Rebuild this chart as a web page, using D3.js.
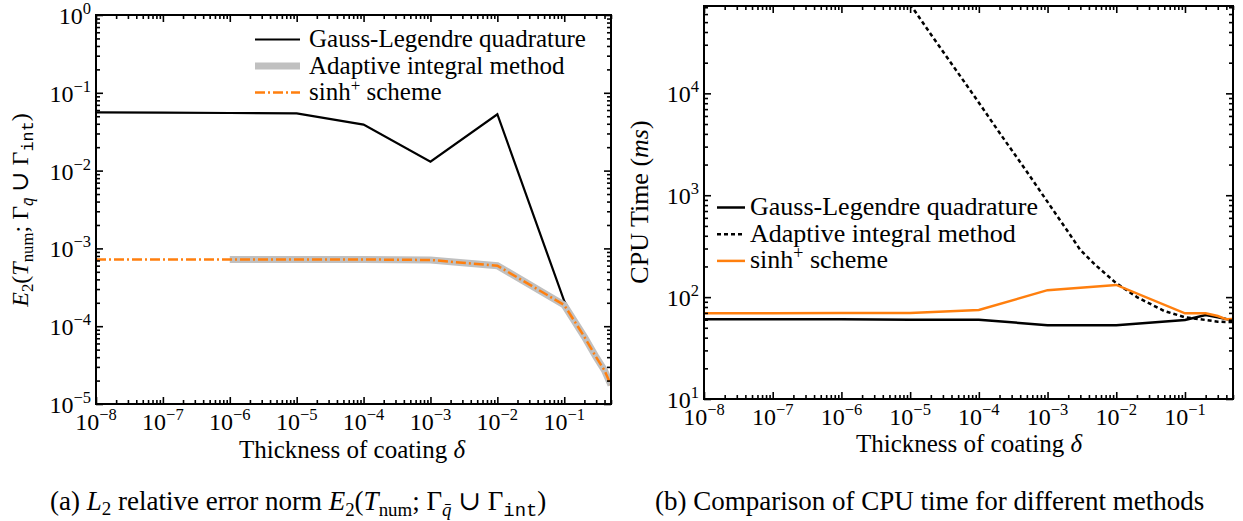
<!DOCTYPE html>
<html>
<head>
<meta charset="utf-8">
<script src="https://cdn.jsdelivr.net/npm/d3@7"></script>
<style>
  html, body { margin: 0; padding: 0; background: #fff; }
  svg { display: block; font-family: "Liberation Serif", "DejaVu Serif", serif; }
</style>
</head>
<body>
<svg id="fig" width="1243" height="521"></svg>
<script>
// ---- data ----
// (a) relative error norm
const deltaErr = [1e-8, 1e-7, 1e-6, 1e-5, 1e-4, 1e-3, 1e-2, 0.1, 0.2, 0.3, 0.4, 0.5];
const gaussErr = [0.056, 0.0555, 0.055, 0.0545, 0.039, 0.013, 0.053, 2.1e-4, 7.3e-5, 4.0e-5, 2.7e-5, 1.75e-5];
const deltaErrAdaptive = [1e-6, 1e-5, 1e-4, 1e-3, 1e-2, 0.1, 0.2, 0.3, 0.4, 0.5];
const adaptiveErr = [7.2e-4, 7.2e-4, 7.2e-4, 7.1e-4, 6.0e-4, 1.87e-4, 7.3e-5, 4.0e-5, 2.7e-5, 1.75e-5];
const sinhErr = [7.2e-4, 7.2e-4, 7.2e-4, 7.2e-4, 7.2e-4, 7.1e-4, 6.0e-4, 1.87e-4, 7.3e-5, 4.0e-5, 2.7e-5, 1.75e-5];

// (b) CPU time in ms
const deltaCpu = [1e-8, 1e-7, 1e-6, 1e-5, 1e-4, 1e-3, 1e-2, 0.1, 0.2, 0.3, 0.4, 0.5];
const gaussCpu = [60.5, 60.5, 60.5, 60, 60, 53, 53, 59.6, 66.7, 63.4, 61, 59.6];
const sinhCpu = [69.4, 69.4, 70, 70, 74.7, 117, 131.6, 69.3, 69.3, 65.3, 60.5, 61];
const deltaCpuAdaptive = [1e-5, 2e-5, 5e-5, 1e-4, 2e-4, 5e-4, 1e-3, 2e-3, 3e-3, 5e-3, 1e-2, 2e-2, 5e-2, 0.1, 0.2, 0.3, 0.4, 0.5];
const adaptiveCpu = [75000, 38000, 15800, 8100, 4100, 1700, 860, 435, 290, 206, 137, 100, 73, 63.4, 59.6, 57.4, 57, 57];

const xExps = [-8, -7, -6, -5, -4, -3, -2, -1];
const yExpsErr = [-5, -4, -3, -2, -1, 0];
const yExpsCpu = [1, 2, 3, 4];

const ORANGE = "#ff7f0e";
const svg = d3.select("#fig");

function zip(xs, ys) { return xs.map((v, i) => [v, ys[i]]); }

function minorTicks(domain) {
  let out = [];
  let lo = Math.floor(Math.log10(domain[0])), hi = Math.ceil(Math.log10(domain[1]));
  for (let e = lo; e < hi; e++)
    for (let k = 2; k <= 9; k++) {
      let v = k * Math.pow(10, e);
      if (v >= domain[0] && v <= domain[1]) out.push(v);
    }
  return out;
}

function panel(o) {
  let x = d3.scaleLog().domain([1e-8, 0.5]).range([o.x0, o.x1]);
  let y = d3.scaleLog().domain(o.yDomain).range([o.y1, o.y0]);
  let g = svg.append("g");
  let id = "clip" + o.name;
  svg.append("clipPath").attr("id", id).append("rect")
    .attr("x", o.x0).attr("y", o.y0).attr("width", o.x1 - o.x0).attr("height", o.y1 - o.y0);
  let plot = g.append("g").attr("clip-path", "url(#" + id + ")");

  let xMaj = xExps.map(e => Math.pow(10, e)),
      yMaj = o.yExps.map(e => Math.pow(10, e)),
      xMin = minorTicks(x.domain()),
      yMin = minorTicks(y.domain());

  // ticks on all four sides, pointing in
  let axes = [
    [d3.axisBottom(x), xMaj, xMin, "translate(0," + o.y1 + ")"],
    [d3.axisTop(x), xMaj, xMin, "translate(0," + o.y0 + ")"],
    [d3.axisLeft(y), yMaj, yMin, "translate(" + o.x0 + ",0)"],
    [d3.axisRight(y), yMaj, yMin, "translate(" + o.x1 + ",0)"]
  ];
  axes.forEach(([ax, maj, min, tr]) => {
    [[maj, 7], [min, 4]].forEach(([vals, len]) => {
      let a = g.append("g").attr("transform", tr)
        .call(ax.tickValues(vals).tickSizeInner(-len).tickSizeOuter(0).tickFormat(""));
      a.select(".domain").remove();
      a.selectAll("line").attr("stroke", "#000").attr("stroke-width", 1.6);
    });
  });

  g.append("rect").attr("x", o.x0).attr("y", o.y0)
    .attr("width", o.x1 - o.x0).attr("height", o.y1 - o.y0)
    .attr("fill", "none").attr("stroke", "#000").attr("stroke-width", 2);

  // tick labels 10^n
  let xl = g.selectAll(".xl").data(xExps).join("text").attr("class", "xl")
    .attr("x", d => x(Math.pow(10, d))).attr("y", o.y1 + 26)
    .attr("text-anchor", "middle").attr("font-size", 24);
  xl.append("tspan").text("10");
  xl.append("tspan").attr("dy", -10).attr("font-size", 16.5).text(d => d < 0 ? "\u2212" + (-d) : d);

  let yl = g.selectAll(".yl").data(o.yExps).join("text").attr("class", "yl")
    .attr("x", o.x0 - 5).attr("y", d => y(Math.pow(10, d)) + 9)
    .attr("text-anchor", "end").attr("font-size", 24);
  yl.append("tspan").text("10");
  yl.append("tspan").attr("dy", -10).attr("font-size", 16.5).text(d => d < 0 ? "\u2212" + (-d) : d);

  // x label
  let xt = g.append("text").attr("x", o.xLabelX).attr("y", o.xLabelY)
    .attr("text-anchor", "middle").attr("font-size", 25);
  xt.append("tspan").text("Thickness of coating ");
  xt.append("tspan").attr("font-style", "italic").text("\u03b4");

  return { x, y, g, plot };
}

const line = (x, y) => d3.line().x(d => x(d[0])).y(d => y(d[1]));

// helper: the E2(T_num; Γ_q̄ ∪ Γ_int) expression as tspans
function e2Expr(t, fs) {
  let sub = fs * 0.7, dd = fs * 0.22;
  t.append("tspan").attr("font-style", "italic").text("E");
  t.append("tspan").attr("font-size", sub).attr("dy", dd).text("2");
  t.append("tspan").attr("dy", -dd).text("(");
  t.append("tspan").attr("font-style", "italic").text("T");
  t.append("tspan").attr("font-size", sub).attr("dy", dd).text("num");
  t.append("tspan").attr("dy", -dd).text("; \u0393");
  t.append("tspan").attr("font-size", sub).attr("font-style", "italic").attr("dy", dd).text("q\u0304");
  t.append("tspan").attr("dy", -dd).text(" \u222a \u0393");
  t.append("tspan").attr("font-size", sub).attr("font-family", "Liberation Mono, DejaVu Sans Mono, monospace").attr("dy", dd).text("int");
  t.append("tspan").attr("dy", -dd).text(")");
}

// ---------- (a) ----------
const A = panel({ name: "a", x0: 96, x1: 611, y0: 15, y1: 404, yDomain: [1e-5, 1],
                  yExps: yExpsErr, xLabelX: 352, xLabelY: 458 });
const la = line(A.x, A.y);
A.plot.append("path").attr("d", la(zip(deltaErr, gaussErr)))
  .attr("fill", "none").attr("stroke", "#000").attr("stroke-width", 2.2);
A.plot.append("path").attr("d", la(zip(deltaErrAdaptive, adaptiveErr)))
  .attr("fill", "none").attr("stroke", "#c0c0c0").attr("stroke-width", 7);
A.plot.append("path").attr("d", la(zip(deltaErr, sinhErr)))
  .attr("fill", "none").attr("stroke", ORANGE).attr("stroke-width", 2.5)
  .attr("stroke-dasharray", "10,3,2,3");

let ya = svg.append("text").attr("transform", "translate(28,210) rotate(-90)")
  .attr("text-anchor", "middle").attr("font-size", 24);
e2Expr(ya, 24);

// legend (a)
const legA = [
  { label: "Gauss-Legendre quadrature", stroke: "#000", w: 2.2, dash: null },
  { label: "Adaptive integral method", stroke: "#c0c0c0", w: 7, dash: null },
  { label: "sinh", sup: "+", rest: " scheme", stroke: ORANGE, w: 2.5, dash: "10,3,2,3" }
];
legA.forEach((d, i) => {
  let yy = 39.5 + i * 26.5;
  svg.append("line").attr("x1", 255).attr("x2", 300).attr("y1", yy).attr("y2", yy)
    .attr("stroke", d.stroke).attr("stroke-width", d.w).attr("stroke-dasharray", d.dash);
  let t = svg.append("text").attr("x", 309).attr("y", yy + 7.5).attr("font-size", 25);
  t.append("tspan").text(d.label);
  if (d.sup) {
    t.append("tspan").attr("dy", -9).attr("font-size", 17).text(d.sup);
    t.append("tspan").attr("dy", 9).text(d.rest);
  }
});

// ---------- (b) ----------
const B = panel({ name: "b", x0: 704, x1: 1233, y0: 6, y1: 399, yDomain: [10, 72000],
                  yExps: yExpsCpu, xLabelX: 969, xLabelY: 452 });
const lb = line(B.x, B.y);
B.plot.append("path").attr("d", lb(zip(deltaCpu, gaussCpu)))
  .attr("fill", "none").attr("stroke", "#000").attr("stroke-width", 2.5);
B.plot.append("path").attr("d", lb(zip(deltaCpuAdaptive, adaptiveCpu)))
  .attr("fill", "none").attr("stroke", "#000").attr("stroke-width", 2.5)
  .attr("stroke-dasharray", "4,3");
B.plot.append("path").attr("d", lb(zip(deltaCpu, sinhCpu)))
  .attr("fill", "none").attr("stroke", ORANGE).attr("stroke-width", 2.5);

let yb = svg.append("text").attr("transform", "translate(648,202) rotate(-90)")
  .attr("text-anchor", "middle").attr("font-size", 26);
yb.append("tspan").text("CPU Time (");
yb.append("tspan").attr("font-style", "italic").text("ms");
yb.append("tspan").text(")");

const legB = [
  { label: "Gauss-Legendre quadrature", stroke: "#000", dash: null },
  { label: "Adaptive integral method", stroke: "#000", dash: "4,3" },
  { label: "sinh", sup: "+", rest: " scheme", stroke: ORANGE, dash: null }
];
legB.forEach((d, i) => {
  let yy = 207.5 + i * 26.7;
  svg.append("line").attr("x1", 717).attr("x2", 745).attr("y1", yy).attr("y2", yy)
    .attr("stroke", d.stroke).attr("stroke-width", 2.5).attr("stroke-dasharray", d.dash);
  let t = svg.append("text").attr("x", 750).attr("y", yy + 7.5).attr("font-size", 26);
  t.append("tspan").text(d.label);
  if (d.sup) {
    t.append("tspan").attr("dy", -9).attr("font-size", 18).text(d.sup);
    t.append("tspan").attr("dy", 9).text(d.rest);
  }
});

// ---------- captions ----------
let ca = svg.append("text").attr("x", 50).attr("y", 510).attr("font-size", 27);
ca.append("tspan").text("(a) ");
ca.append("tspan").attr("font-style", "italic").text("L");
ca.append("tspan").attr("font-size", 19).attr("dy", 5).text("2");
ca.append("tspan").attr("dy", -5).text(" relative error norm ");
e2Expr(ca, 27);

svg.append("text").attr("x", 655).attr("y", 510).attr("font-size", 27)
  .text("(b) Comparison of CPU time for different methods");
</script>
</body>
</html>
